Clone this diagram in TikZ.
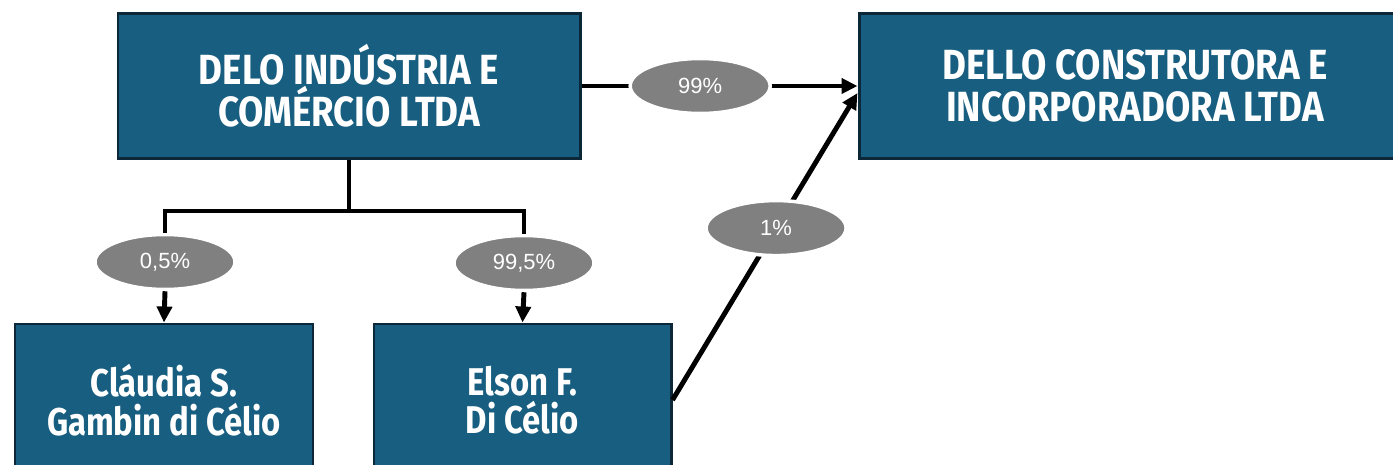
\documentclass[tikz,border=0pt]{standalone}
\usepackage{fontspec}
\setmainfont{Liberation Sans}
\newfontfamily\boxfont{Fira Sans}[FakeStretch=0.85]
\newfontfamily\firmfont{Fira Sans}[FakeStretch=0.87]
\usetikzlibrary{arrows.meta, shapes.geometric}
\definecolor{boxblue}{RGB}{24,94,128}
\definecolor{boxedge}{RGB}{12,40,56}
\definecolor{pctgray}{RGB}{128,128,128}

\begin{document}
\begin{tikzpicture}[>={Triangle[length=0.32cm, width=0.3cm]},
    company/.style={rectangle, draw=boxedge, line width=1.7pt, fill=boxblue, text=white,
        align=center, inner sep=0pt, font=\firmfont\bfseries\fontsize{24}{24}\selectfont},
    person/.style={company, font=\boxfont\bfseries\fontsize{22}{22}\selectfont},
    share/.style={ellipse, draw=white, line width=2pt, fill=pctgray, text=white, inner sep=0pt,
        minimum width=2.8cm, minimum height=1.1cm, font=\fontsize{12.5}{14}\selectfont},
    link/.style={line width=2.8pt}]

        \useasboundingbox (0,0) rectangle (27.86,-9.30);

        % === Companies ===
        \node[company, minimum width=9.24cm, minimum height=2.9cm] (delo) at (6.98, -1.72) {DELO INDÚSTRIA E\\COMÉRCIO LTDA};
        \node[company, minimum width=11.04cm, minimum height=2.9cm] (dello) at (22.7, -1.72) {DELLO CONSTRUTORA E\\INCORPORADORA LTDA};

        % === Partners ===
        \node[person, minimum width=5.96cm, minimum height=3.04cm] (claudia) at (3.28, -8.0) {Cláudia S.\\Gambin di Célio};
        \node[person, minimum width=5.94cm, minimum height=3.04cm] (elson) at (10.45, -8.0) {Elson F.\\Di Célio};

        % Shares of DELO
        \node[share] (p05) at (3.3, -5.24) {0,5\%};
        \node[share] (p995) at (10.48, -5.26) {99,5\%};
        \coordinate (fork) at (6.98, -4.22);

        \draw[link] (delo.south) -- (fork);
        \draw[link] (fork) -| (p05.north);
        \draw[link] (fork) -| (p995.north);
        \draw[->, link] (p05.south) -- (claudia.north);
        \draw[->, link] (p995.south) -- (elson.north);

        % Shares of DELLO
        \draw[->, link] (delo.east) -- node[share, pos=0.43] (p99) {99\%} (dello.west);
        \draw[->, link] (elson.east) -- node[share, pos=0.56] (p1) {1\%} ([yshift=-0.14cm]dello.west);

    \end{tikzpicture}
\end{document}
